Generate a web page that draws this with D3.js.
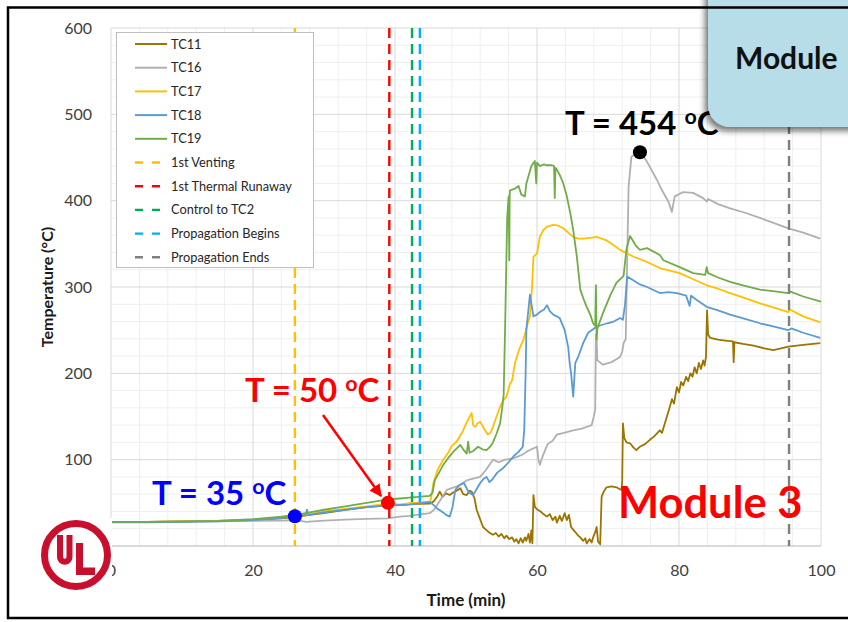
<!DOCTYPE html>
<html><head><meta charset="utf-8">
<script src="https://cdn.jsdelivr.net/npm/d3@7"></script>
<style>
body{margin:0;background:#fff;}
svg{display:block;font-family:Lato,"Open Sans",sans-serif;}
</style>
</head><body>
<svg id="c" width="848" height="622"></svg>
<script>
// ---------- DATA ----------
const seriesNames = ["TC11","TC16","TC17","TC18","TC19"];
const seriesColors = ["#9c7400","#b0b0b0","#ffc000","#5b9bd5","#70ad47"];

const tc11 = [[0,28],[5,28],[10,28.5],[15,29],[20,30],[24,32],[26,33.5],[28,36],[30,38],[33,42],[36,45],[39,47],[40.7,47.5],[42,48.5],[44.9,49],[45.5,52],[46.0,58],[46.3,63],[46.7,57],[47.2,61],[47.7,59],[48.2,62],[48.7,64],[49.2,67],[49.6,60],[50.1,59],[50.5,64],[50.8,63],[51.2,55],[51.5,42],[51.9,33],[52.4,22],[52.8,19],[53.2,16],[53.8,13],[54.2,15],[54.6,11],[55.0,14],[55.4,9],[55.7,12],[56.1,8],[56.5,10],[56.8,5],[57.1,8],[57.4,3],[57.7,9],[58.0,4],[58.3,10],[58.5,6],[58.8,14],[59.0,4],[59.2,18],[59.35,3],[59.5,59],[59.7,45],[60.1,42],[60.5,40],[60.9,37],[61.4,34],[61.8,37],[62.2,30],[62.6,34],[62.8,27],[63.2,35],[63.5,29],[63.9,38],[64.2,30],[64.5,36],[64.8,22],[65.1,19],[65.5,15],[65.8,12],[66.1,10],[66.5,6],[66.8,9],[67.0,3],[67.4,8],[67.7,4],[67.9,10],[68.2,16],[68.4,22],[68.6,5],[68.9,2],[69.0,30],[69.1,57],[69.4,63],[69.8,68],[70.5,69],[71.2,68],[71.6,66],[71.9,65],[72.0,75],[72.1,142],[72.3,125],[72.6,120],[73.1,119],[73.6,114],[74.0,111],[74.5,115],[75.2,118],[75.9,123],[76.5,127],[77.3,134],[77.6,131],[78.0,142],[78.3,150],[78.7,161],[79.0,170],[79.3,165],[79.7,184],[80.0,178],[80.3,190],[80.6,186],[81.0,196],[81.3,191],[81.6,200],[81.9,196],[82.2,207],[82.5,200],[82.8,212],[83.1,205],[83.4,215],[83.6,209],[83.8,219],[83.95,273],[84.1,245],[84.4,241],[85.5,239],[86.5,238],[87.6,237],[87.7,213],[87.8,236],[89,234],[90.5,232],[92,229],[93.3,227],[95.4,231],[97.5,233],[99.9,235]];

const tc16 = [[0,28],[5,28],[10,28],[15,28.5],[20,29],[24,29.5],[26,30],[27.5,28],[30,29.5],[33,30.5],[36,31.5],[39,32],[40.7,34],[42,35],[44.9,38],[45.5,42],[46.3,52],[47.3,65],[48,67],[49,70],[50.1,76],[51,78],[52,80],[52.8,88],[53.8,100],[54.6,97],[55.5,100],[56.3,101],[57.1,103],[58.0,106],[58.5,109],[59.2,112],[60.0,115],[60.2,100],[60.4,94],[60.8,104],[61.5,118],[62.2,122],[62.8,129],[63.8,131],[65.1,134],[66.3,136],[67.0,138],[67.7,140],[68.0,150],[68.2,158],[68.3,245],[68.4,240],[68.5,215],[69.3,210],[70.5,213],[71.7,219],[72.0,225],[72.2,235],[72.5,240],[72.7,330],[72.9,416],[73.3,451],[74.0,455],[74.5,457],[75.5,445],[76.9,424],[77.6,412],[78.5,399],[79.0,387],[79.4,405],[80.6,410],[82.0,409],[83.4,403],[83.9,399],[84.1,402],[85.5,396],[87.2,391],[89.3,386],[91.4,380],[93.4,374],[95.4,368],[97.5,363],[99.9,356]];

const tc17 = [[0,28],[5,28],[10,28.5],[15,29],[20,30.5],[24,33],[26,34.5],[28,37],[30,40],[33,43],[36,46],[39,49],[40.7,48],[42,49.5],[44.9,51],[45.1,56],[45.4,73],[46.0,88],[46.8,100],[47.5,108],[48.0,116],[48.7,121],[49.2,128],[49.6,134],[50.2,145],[50.8,154],[51.0,140],[51.3,138],[51.6,142],[52.0,144],[52.6,135],[53.1,129],[53.5,132],[53.8,138],[54.3,150],[54.8,161],[55.2,168],[55.7,173],[56.2,188],[56.5,192],[56.9,212],[57.5,228],[58.1,239],[58.6,255],[59.0,266],[59.3,300],[59.5,335],[60.0,339],[60.4,358],[60.9,366],[61.4,370],[62.3,372],[63.0,371],[63.7,368],[64.4,363],[65.1,358],[65.8,356],[66.5,356],[67.5,357],[68.4,358],[69.8,354],[70.7,349],[71.7,343],[73.6,335],[75.5,329],[77.3,322],[80.1,316],[82,309],[83.9,302],[85.5,298],[87.2,293],[89.3,287],[91.4,281],[93.4,276],[95.4,271],[95.6,274],[97.5,266],[99.9,259]];

const tc18 = [[0,27.5],[5,27.5],[10,28],[15,28.5],[20,30],[24,32.5],[26,34.5],[27.4,36],[27.6,42],[27.8,36],[30,39],[33,42],[36,45],[39,47],[40.7,47.5],[42,48],[44.9,51],[45.5,47],[46,43],[46.6,40],[47.2,36],[47.7,34],[48.1,45],[48.5,65],[49.0,70],[49.7,73],[50.4,62],[51.0,59],[51.5,66],[52.0,73],[52.5,78],[52.9,80],[53.3,74],[53.7,77],[54.4,85],[55.2,90],[56.0,97],[56.7,104],[57.4,109],[58.0,115],[58.2,134],[58.4,200],[58.5,250],[59.0,291],[59.5,266],[60.0,268],[60.4,271],[61.0,274],[61.4,279],[61.8,272],[62.3,268],[63.2,264],[63.9,250],[64.4,230],[64.6,212],[64.8,200],[65.1,173],[65.3,200],[65.4,212],[65.8,219],[66.5,235],[67.2,247],[68.4,254],[69.1,256],[69.9,258],[70.8,260],[71.7,264],[72.1,262],[72.4,280],[72.7,312],[73.5,308],[74.5,303],[75.5,300],[77.3,293],[78.5,294],[79.7,293],[81,290],[81.5,278],[81.7,290],[82.5,285],[83.9,277],[85.5,273],[87.2,268],[89.3,263],[91.4,258],[93.4,254],[95.4,250],[95.8,252],[97.5,247],[99.9,241]];

const tc19 = [[0,28],[5,28],[10,28.5],[15,29],[20,31],[24,34],[26,36],[28,39],[30,42],[33,46],[36,50],[39,54],[40.7,55],[42,56],[44.9,58],[45.3,62],[45.6,76],[46.2,85],[46.8,94],[47.5,102],[48.2,109],[48.7,113],[49.2,117],[49.6,112],[50.1,107],[50.3,121],[50.5,108],[51.0,110],[51.7,115],[52.3,112],[52.9,111],[53.4,115],[53.8,120],[54.3,130],[54.8,142],[55.1,160],[55.3,175],[55.5,250],[55.8,380],[56.0,405],[56.1,331],[56.15,405],[56.2,412],[56.9,414],[57.4,417],[57.8,407],[58.3,405],[58.5,420],[59.2,440],[59.7,446],[59.9,420],[60.0,444],[60.4,440],[61.0,442],[61.4,441],[62.1,441],[62.4,440],[62.5,403],[62.6,438],[62.8,436],[63.3,428],[63.7,420],[64.2,405],[64.7,385],[65.1,366],[65.6,336],[66.1,297],[66.6,285],[67.0,277],[67.5,268],[67.9,258],[68.2,255],[68.3,302],[68.4,239],[68.5,252],[69.3,270],[70.3,290],[71.2,305],[72.2,313],[72.6,344],[73.1,359],[74.0,347],[74.5,343],[75.5,345],[77.3,337],[77.8,331],[80.1,323],[82.0,316],[83.7,314],[83.9,323],[84.1,316],[85.5,311],[87.2,306],[89,302],[91.4,297],[93.5,295],[95.4,293],[95.6,295],[97.5,289],[100,283]];

const seriesData = [tc11, tc16, tc17, tc18, tc19];

const eventNames = ["1st Venting","1st Thermal Runaway","Control to TC2","Propagation Begins","Propagation Ends"];
const eventTimes = [25.9, 39.2, 42.4, 43.5, 95.5];
const eventColors = ["#ffc000","#ff0000","#00b050","#00b0f0","#7f7f7f"];

const xTicks = [0,20,40,60,80,100];
const yTicks = [0,100,200,300,400,500,600];

const markerPoints = [[25.9,34.5],[39.0,50],[74.5,456]];
const markerColors = ["#0000ff","#ff0000","#000000"];

// ---------- CHART ----------
const svg = d3.select("#c");
const x = d3.scaleLinear().domain([0,100]).range([111,821]);
const y = d3.scaleLinear().domain([0,600]).range([546,28]);

svg.append("rect").attr("width",848).attr("height",622).attr("fill","#fff");

// minor gridlines
const g = svg.append("g");
g.selectAll(".vx").data(d3.range(0,101,4).filter(v=>v%20!==0)).join("line")
  .attr("x1",d=>x(d)).attr("x2",d=>x(d)).attr("y1",y(0)).attr("y2",y(600))
  .attr("stroke","#efefef").attr("stroke-width",1);
g.selectAll(".hy").data(d3.range(0,601,20).filter(v=>v%100!==0)).join("line")
  .attr("x1",x(0)).attr("x2",x(100)).attr("y1",d=>y(d)).attr("y2",d=>y(d))
  .attr("stroke","#efefef").attr("stroke-width",1);
// major gridlines
g.selectAll(".mx").data(xTicks).join("line")
  .attr("x1",d=>x(d)).attr("x2",d=>x(d)).attr("y1",y(0)).attr("y2",y(600))
  .attr("stroke","#d9d9d9").attr("stroke-width",1);
g.selectAll(".my").data(yTicks).join("line")
  .attr("x1",x(0)).attr("x2",x(100)).attr("y1",d=>y(d)).attr("y2",d=>y(d))
  .attr("stroke","#d9d9d9").attr("stroke-width",1);

// axes
const ax = svg.append("g").attr("transform",`translate(0,${y(0)})`)
  .call(d3.axisBottom(x).tickValues(xTicks).tickSize(0).tickPadding(19));
const ay = svg.append("g").attr("transform",`translate(${x(0)},0)`)
  .call(d3.axisLeft(y).tickValues(yTicks).tickSize(0).tickPadding(19));
[ax,ay].forEach(a=>{
  a.select(".domain").remove();
  a.selectAll("text").attr("font-family","Lato, sans-serif").attr("font-size",16).attr("fill","#404040");
});
svg.append("line").attr("x1",x(0)).attr("x2",x(100)).attr("y1",y(0)).attr("y2",y(0)).attr("stroke","#c8c8c8");

svg.append("text").attr("x",466).attr("y",606).attr("text-anchor","middle")
  .attr("font-size",17).attr("font-weight","bold").attr("fill","#1a1a1a").text("Time (min)");
svg.append("text").attr("transform","translate(53,287) rotate(-90)").attr("text-anchor","middle")
  .attr("font-size",16).attr("font-weight","bold").attr("fill","#1a1a1a").text("Temperature (°C)");

// series
const line = d3.line().x(d=>x(d[0])).y(d=>y(d[1]));
svg.append("g").selectAll("path").data(seriesData).join("path")
  .attr("d",line).attr("fill","none")
  .attr("stroke",(d,i)=>seriesColors[i]).attr("stroke-width",1.8)
  .attr("stroke-linejoin","round");

// event dashed lines
svg.append("g").selectAll("line").data(eventTimes).join("line")
  .attr("x1",d=>x(d)).attr("x2",d=>x(d)).attr("y1",y(600)).attr("y2",y(0))
  .attr("stroke",(d,i)=>eventColors[i]).attr("stroke-width",2.4)
  .attr("stroke-dasharray","10,6");

// legend
const lg = svg.append("g");
lg.append("rect").attr("x",116.5).attr("y",32.5).attr("width",197).attr("height",235)
  .attr("fill","#fff").attr("stroke","#bfbfbf");
const legNames = seriesNames.concat(eventNames);
const legColors = seriesColors.concat(eventColors);
legNames.forEach((n,i)=>{
  const cy = 44 + i*23.7;
  lg.append("line").attr("x1",135).attr("x2",167).attr("y1",cy).attr("y2",cy)
    .attr("stroke",legColors[i]).attr("stroke-width",i<5?2:2.4)
    .attr("stroke-dasharray",i<5?null:"8,9");
  lg.append("text").attr("x",171).attr("y",cy+4.5).attr("font-size",12.8)
    .attr("fill","#262626").text(n);
});

// markers
svg.append("g").selectAll("circle").data(markerPoints).join("circle")
  .attr("cx",d=>x(d[0])).attr("cy",d=>y(d[1])).attr("r",7)
  .attr("fill",(d,i)=>markerColors[i]);

// arrow
svg.append("defs").html(`
  <marker id="ah" viewBox="0 0 10 10" refX="9" refY="5" markerWidth="5" markerHeight="5" orient="auto">
    <path d="M0,0 L10,5 L0,10 z" fill="#ff0000"/></marker>
  <filter id="sh" x="-20%" y="-20%" width="140%" height="150%">
    <feDropShadow dx="-3" dy="4" stdDeviation="3" flood-color="#000" flood-opacity="0.55"/></filter>`);
svg.append("line").attr("x1",323).attr("y1",415).attr("x2",381).attr("y2",496)
  .attr("stroke","#ff0000").attr("stroke-width",2.5).attr("marker-end","url(#ah)");

// annotation texts
function annot(xp, yp, num, color, size){
  const t = svg.append("text").attr("x",xp).attr("y",yp).attr("font-size",size)
    .attr("font-weight","bold").attr("fill",color);
  t.append("tspan").text("T = "+num+" ");
  t.append("tspan").attr("font-size",size*0.65).attr("dy",-size*0.34).text("o");
  t.append("tspan").attr("dy",size*0.34).text("C");
}
annot(565,135,"454","#000",33);
annot(245,402,"50","#ff0000",33);
annot(152,505,"35","#0000ff",33);

svg.append("text").attr("x",618).attr("y",518).attr("font-size",43.5).attr("font-weight","bold")
  .attr("fill","#ff0000").text("Module 3");

// Module box
svg.append("rect").attr("x",708).attr("y",-30).attr("width",200).attr("height",157).attr("rx",22)
  .attr("fill","#b7dde8").attr("filter","url(#sh)");
svg.append("text").attr("x",735).attr("y",69).attr("font-size",30).attr("font-weight","bold")
  .attr("fill","#111").text("Module");

// UL logo
svg.append("rect").attr("x",40).attr("y",518).attr("width",72).attr("height",72).attr("fill","#fff");
svg.append("circle").attr("cx",76).attr("cy",555).attr("r",31.5).attr("fill","none")
  .attr("stroke","#c8102e").attr("stroke-width",7);
svg.append("path").attr("d","M60,535 V557 A4.75,4.75 0 0 0 69.5,557 V535")
  .attr("fill","none").attr("stroke","#c8102e").attr("stroke-width",6);
svg.append("path").attr("d","M76,543 H83 V567.5 H95 V575 H76 Z").attr("fill","#c8102e");

// outer frame
svg.append("rect").attr("x",8).attr("y",7.5).attr("width",860).attr("height",610.5)
  .attr("fill","none").attr("stroke","#000").attr("stroke-width",2.5);
</script>
</body></html>
